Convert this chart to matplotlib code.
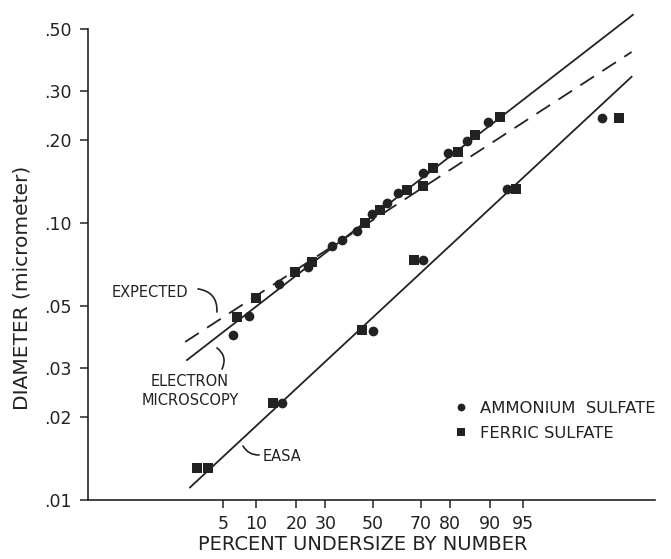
import numpy as np
import matplotlib
matplotlib.use("Agg")
import matplotlib.pyplot as plt
from statistics import NormalDist

# Data (percent undersize, diameter in micrometer)
amm_pct = [6.2, 8.7, 15.1, 23.8, 32.6, 36.7, 43.0, 49.6, 56.1, 60.8, 70.8, 79.4, 84.9, 89.6,
           15.9, 50.0, 70.8, 92.9, 99.4]
amm_dia = [0.0394, 0.0462, 0.0602, 0.0694, 0.0826, 0.0868, 0.0936, 0.1078, 0.1181, 0.1283,
           0.1516, 0.179, 0.198, 0.2315,
           0.0224, 0.0408, 0.0735, 0.1327, 0.239]
fer_pct = [6.8, 10.0, 19.6, 25.2, 46.5, 53.1, 64.5, 70.8, 74.5, 82.4, 86.8, 91.8,
           2.7, 3.5, 13.7, 45.2, 67.4, 94.2, 99.65]
fer_dia = [0.0458, 0.0536, 0.0666, 0.0723, 0.100, 0.1114, 0.1315, 0.136, 0.158, 0.180,
           0.208, 0.241,
           0.01305, 0.01305, 0.0224, 0.0411, 0.0735, 0.1327, 0.239]

# fitted lines (end points)
em_pct = [2.07, 99.78]
em_dia = [0.032, 0.564]
exp_pct = [1.97, 99.77]
exp_dia = [0.0372, 0.414]
easa_pct = [2.24, 99.77]
easa_dia = [0.0111, 0.337]

xticks = [5, 10, 20, 30, 50, 70, 80, 90, 95]
yticks = [0.01, 0.02, 0.03, 0.05, 0.10, 0.20, 0.30, 0.50]
ylabels = ['.01', '.02', '.03', '.05', '.10', '.20', '.30', '.50']

ink = '#222222'
plt.rcParams['font.family'] = 'DejaVu Sans'

# probability scale for x
nd = NormalDist()
def fwd(p):
    p = np.clip(np.nan_to_num(np.asarray(p, float), nan=50.0), 1e-6, 100 - 1e-6)
    return np.vectorize(lambda v: nd.inv_cdf(v / 100.0), otypes=[float])(p)

def inv(z):
    z = np.nan_to_num(np.asarray(z, float))
    return np.vectorize(lambda v: nd.cdf(v) * 100.0, otypes=[float])(z)

fig = plt.figure(figsize=(6.71, 5.59), dpi=100)
ax = fig.add_axes([88/671, 59/559, 567/671, 490/559])
ax.set_xscale('function', functions=(fwd, inv))
ax.set_yscale('log')
ax.set_xlim(0.089, 99.9)
ax.set_ylim(0.01, 0.587)

ax.plot(em_pct, em_dia, color=ink, lw=1.3)
ax.plot(exp_pct, exp_dia, color=ink, lw=1.3, linestyle=(0, (9, 5.5)))
ax.plot(easa_pct, easa_dia, color=ink, lw=1.3)

ax.plot(amm_pct, amm_dia, 'o', color=ink, ms=7, mew=0, label='AMMONIUM  SULFATE')
ax.plot(fer_pct, fer_dia, 's', color=ink, ms=6.6, mew=0, label='FERRIC SULFATE')

for s in ['top', 'right']:
    ax.spines[s].set_visible(False)
ax.spines['left'].set_bounds(0.01, 0.5)
ax.spines['left'].set_color(ink)
ax.spines['bottom'].set_color(ink)
ax.spines['left'].set_linewidth(1.2)
ax.spines['bottom'].set_linewidth(1.2)

ax.set_xticks(xticks)
ax.set_xticklabels([str(t) for t in xticks])
ax.set_yticks(yticks)
ax.set_yticklabels(ylabels)
ax.xaxis.set_minor_locator(matplotlib.ticker.NullLocator())
ax.yaxis.set_minor_locator(matplotlib.ticker.NullLocator())
ax.tick_params(axis='both', colors=ink, labelsize=12.5, length=6, width=1.1)
ax.tick_params(axis='x', pad=5)
ax.tick_params(axis='y', pad=6)

ax.set_xlabel('PERCENT UNDERSIZE BY NUMBER', fontsize=14, color=ink)
ax.xaxis.set_label_coords(0.485, -0.072)
ax.set_ylabel('DIAMETER (micrometer)', fontsize=14.5, color=ink)
ax.yaxis.set_label_coords(-0.1, 0.433)

# labels for the lines
ax.text(0.72, 0.0563, 'EXPECTED', fontsize=10.5, color=ink, ha='center', va='center')
ax.annotate('', xy=(4.35, 0.0477), xytext=(2.75, 0.0578),
            arrowprops=dict(arrowstyle='-', color=ink, lw=1.2,
                            connectionstyle='arc3,rad=-0.45', shrinkA=0, shrinkB=0))
ax.text(2.24, 0.02475, 'ELECTRON\nMICROSCOPY', fontsize=10.5, color=ink,
        ha='center', va='center', linespacing=1.3)
ax.annotate('', xy=(4.89, 0.0297), xytext=(4.35, 0.0354),
            arrowprops=dict(arrowstyle='-', color=ink, lw=1.2,
                            connectionstyle='arc3,rad=-0.4', shrinkA=0, shrinkB=0))
ax.text(11.4, 0.0143, 'EASA', fontsize=10.5, color=ink, ha='left', va='center')
ax.annotate('', xy=(10.57, 0.01454), xytext=(7.7, 0.01567),
            arrowprops=dict(arrowstyle='-', color=ink, lw=1.2,
                            connectionstyle='arc3,rad=0.3', shrinkA=0, shrinkB=0))

leg = ax.legend(loc='upper left', bbox_to_anchor=(0.644, 0.202), frameon=False,
                fontsize=11.8, handlelength=0.9, handletextpad=0.75, labelspacing=0.62,
                borderpad=0, borderaxespad=0, markerscale=0.8)
for t in leg.get_texts():
    t.set_color(ink)

fig.savefig('out.png', dpi=100, facecolor='white')
